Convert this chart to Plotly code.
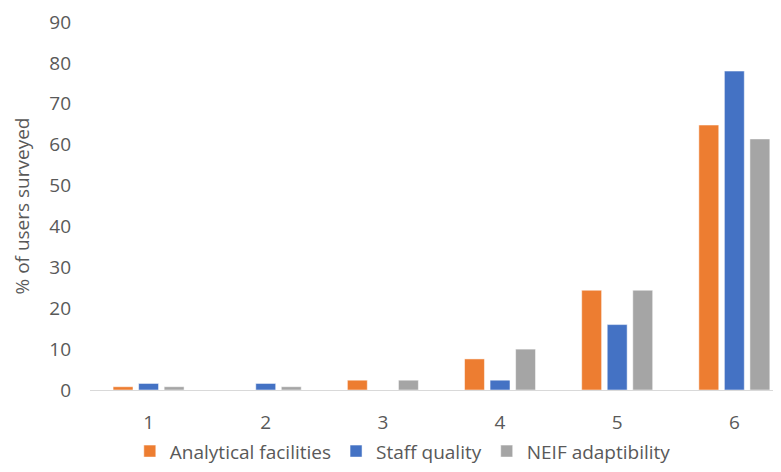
import plotly.graph_objects as go

categories = ["1", "2", "3", "4", "5", "6"]
analytical = [0.8, 0, 2.4, 7.6, 24.4, 64.8]
staff = [1.6, 1.6, 0, 2.4, 16.0, 78.0]
neif = [0.8, 0.8, 2.4, 10.0, 24.4, 61.4]
y_ticks = [0, 10, 20, 30, 40, 50, 60, 70, 80, 90]

FONT = "Open Sans"
TXT = "#595959"

fig = go.Figure()
for name, vals, col in [("Analytical facilities", analytical, "#ED7D31"),
                        ("Staff quality", staff, "#4472C4"),
                        ("NEIF adaptibility", neif, "#A5A5A5")]:
    fig.add_trace(go.Bar(x=categories, y=vals, name=name,
                         marker=dict(color=col, line=dict(color="rgba(255,255,255,0.5)", width=1))))

# page body has an 8px margin; size the figure so the page is exactly 781x472
fig.update_layout(
    width=765, height=456,
    margin=dict(l=82, r=0, t=14, b=74, autoexpand=False),
    paper_bgcolor="white", plot_bgcolor="white",
    barmode="group", bargap=0.346, bargroupgap=0.22,
    font=dict(family=FONT, color=TXT, size=18),
    showlegend=True,
    legend=dict(orientation="h", x=0.458, xanchor="center", yref="container", y=0.028,
                yanchor="middle", font=dict(size=19, color=TXT), itemwidth=30,
                traceorder="normal"),
    xaxis=dict(type="category", range=[-0.5, 5.33], showline=True, linecolor="#D9D9D9", linewidth=1,
               ticks="", showgrid=False, automargin=False,
               tickfont=dict(size=19, color=TXT), ticklabelstandoff=15),
    yaxis=dict(range=[0, 90], tickvals=y_ticks, showgrid=False, zeroline=False, showline=False,
               automargin=False, tickfont=dict(size=19, color=TXT), ticklabelstandoff=18,
               title=dict(text="% of users surveyed", font=dict(size=19, color=TXT), standoff=14)),
)

fig.write_html("out.html")
